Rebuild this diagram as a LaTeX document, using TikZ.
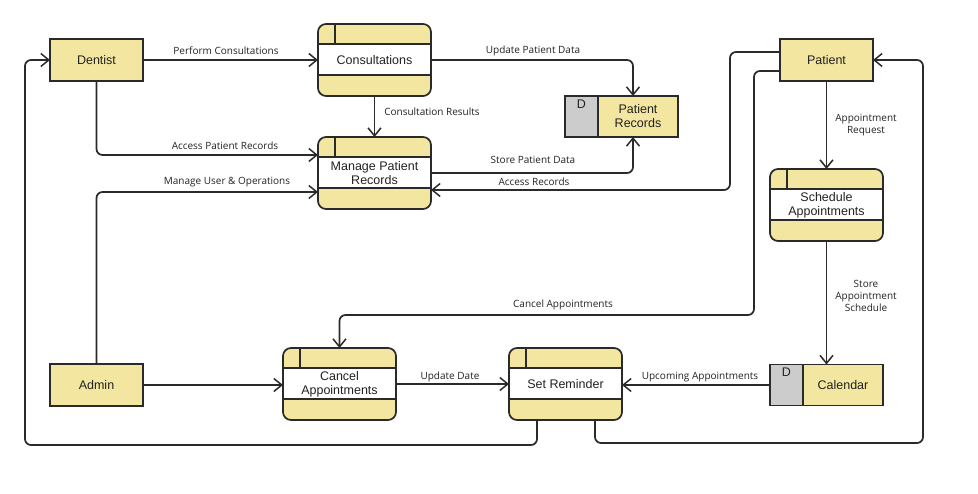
\documentclass[tikz,border=0pt]{standalone}
\usepackage{fontspec}
\setmainfont{Liberation Sans}
\newfontfamily\labfont{Open Sans}
\usetikzlibrary{calc,arrows.meta}
\definecolor{procyellow}{HTML}{F2E6A0}
\definecolor{storegray}{HTML}{CCCCCC}
\definecolor{linecol}{HTML}{2A2A2A}
\definecolor{textcol}{HTML}{222222}
\tikzset{
  line/.style={draw=linecol, line width=1.7pt},
  arr/.style={line, rounded corners=6pt, -{Straight Barb[length=8pt,width=13pt,line width=1.5pt]}},
  procbox/.style={fill=procyellow, minimum width=113pt, minimum height=72pt, inner sep=0pt, outer sep=0pt, rounded corners=8pt},
  entity/.style={line, fill=procyellow, minimum width=93pt, minimum height=42pt, inner sep=0pt, outer sep=0pt, text=textcol, font=\fontsize{12.5}{14}\selectfont},
  storebox/.style={line, fill=procyellow, minimum width=113pt, minimum height=41pt, inner sep=0pt, outer sep=0pt},
  ntext/.style={text=textcol, font=\fontsize{12.5}{14}\selectfont, align=center, inner sep=0pt},
  lab/.style={text=textcol, font=\labfont\fontsize{10}{12}\selectfont, align=center, inner sep=0pt},
}
\newcommand\procnode[4]{%
  \node[procbox] (#1) at (#2,#3) {};
  \fill[white] ($(#1.north west)+(0,20)$) rectangle ($(#1.south east)+(0,-21)$);
  \draw[line] ($(#1.north west)+(0,20)$) -- ($(#1.north east)+(0,20)$);
  \draw[line] ($(#1.south west)+(0,-21)$) -- ($(#1.south east)+(0,-21)$);
  \draw[line] ($(#1.north west)+(17,0)$) -- ++(0,20);
  \draw[line, rounded corners=8pt] (#1.north west) rectangle (#1.south east);
  \node[ntext] (#1-t) at (#1.center) {#4};
}
\newcommand\storenode[4]{%
  \node[storebox] (#1) at (#2,#3) {};
  \fill[storegray] (#1.north west) rectangle ($(#1.south west)+(33,0)$);
  \draw[line] ($(#1.north west)+(33,0)$) -- ($(#1.south west)+(33,0)$);
  \draw[line] (#1.north west) rectangle (#1.south east);
  \node[ntext] (#1-d) at ($(#1.north west)+(16.5,8)$) {D};
  \node[ntext] (#1-t) at ($(#1.center)+(16.5,0)$) {#4};
}
\begin{document}
\begin{tikzpicture}[x=1pt,y=-1pt]
\useasboundingbox (0,0) rectangle (978,494);
% entities
\node[entity] (dentist) at (96.5,60) {Dentist};
\node[entity] (admin) at (96.5,385) {Admin};
\node[entity] (patient) at (826.5,60) {Patient};
% processes
\procnode{cons}{374.5}{60}{Consultations}
\procnode{manage}{374.5}{173}{Manage Patient\\Records}
\procnode{sched}{826.5}{205}{Schedule\\Appointments}
\procnode{cancel}{339.5}{384}{Cancel\\Appointments}
\procnode{setr}{565.5}{384}{Set Reminder}
% stores
\storenode{prec}{621.5}{116.5}{Patient\\Records}
\storenode{cal}{826.5}{385}{Calendar}
% connectors
\draw[arr] (dentist.east) -- (cons.west);
\draw[arr] (dentist.south) |- ($(manage.west)+(0,-18)$);
\draw[arr] (admin.north) |- ($(manage.west)+(0,19)$);
\draw[arr] (cons.south) -- (manage.north);
\draw[arr] (cons.east) -| ($(prec.north)+(11.5,0)$);
\draw[arr] (manage.east) -| ($(prec.south)+(11.5,0)$);
\draw[arr] ($(patient.west)+(0,-8)$) -- ++(-50,0) |- ($(manage.east)+(0,17)$);
\draw[arr] ($(patient.west)+(0,11)$) -- ++(-26,0) |- ($(cancel.north)+(0,-33)$) -- (cancel.north);
\draw[arr] (patient.south) -- (sched.north);
\draw[arr] (sched.south) -- (cal.north);
\draw[arr] (cal.west) -- (setr.east |- cal.west);
\draw[arr] (cancel.east) -- (setr.west);
\draw[arr] (admin.east) -- (cancel.west |- admin.east);
\draw[arr] ($(setr.south)+(-28.5,0)$) -- ++(0,25) -| ($(dentist.west)+(-25,0)$) -- (dentist.west);
\draw[arr] ($(setr.south)+(29.5,0)$) -- ++(0,23) -| ($(patient.east)+(50,0)$) -- (patient.east);
% labels
\node[lab] (l1) at (226,51) {Perform Consultations};
\node[lab] (l2) at (225,146) {Access Patient Records};
\node[lab] (l3) at (227,182) {Manage User \& Operations};
\node[lab] (l4) at (432,112) {Consultation Results};
\node[lab] (l5) at (533,51) {Update Patient Data};
\node[lab] (l6) at (533,160) {Store Patient Data};
\node[lab] (l7) at (534,182) {Access Records};
\node[lab] (l8) at (866,125) {Appointment\\Request};
\node[lab] (l9) at (866,296) {Store\\Appointment\\Schedule};
\node[lab] (l10) at (563,305) {Cancel Appointments};
\node[lab] (l11) at (450,377) {Update Date};
\node[lab] (l12) at (700,377) {Upcoming Appointments};
\end{tikzpicture}
\end{document}
